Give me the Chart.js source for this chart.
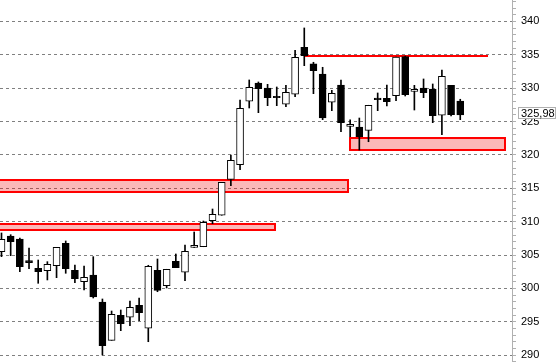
<!DOCTYPE html>
<html><head><meta charset="utf-8">
<script src="https://cdn.jsdelivr.net/npm/chart.js@4/dist/chart.umd.min.js"></script>
<style>html,body{margin:0;padding:0;background:#fff}#w{width:556px;height:362px;position:relative}</style>
</head><body><div id="w"><canvas id="c"></canvas></div>
<script>
const opens  = [305.51,307.86,307.41,304.16,303.02,302.66,303.41,306.76,302.72,301.01,302.01,297.97,292.23,295.98,295.68,297.48,294.03,302.72,300.41,304.07,302.42,306.13,306.25,310.15,310.96,316.35,318.54,328.04,330.78,330.03,328.79,327.59,329.09,336.13,333.63,332.13,327.89,330.48,324.29,324.19,323.69,328.53,328.49,328.88,334.72,329.53,330.03,329.88,325.94,330.43,328.08];
const highs  = [308.31,308.05,307.56,306.06,304.26,304.01,306.16,307.11,303.51,303.36,304.76,298.42,296.62,296.77,298.12,298.57,303.47,304.41,302.87,305.16,306.51,308.46,310.10,311.90,315.90,319.99,328.23,331.23,330.93,330.58,330.18,330.43,335.68,339.02,333.88,333.13,329.68,331.23,325.24,325.53,327.44,329.28,330.48,334.67,334.82,330.43,331.38,330.63,332.73,330.43,328.34];
const lows   = [304.76,304.91,302.51,302.96,300.77,301.27,301.61,302.27,300.86,299.77,298.57,290.03,292.23,293.67,294.42,295.17,292.02,299.51,300.07,303.11,301.16,306.13,306.25,309.70,310.96,315.39,317.79,327.03,326.33,327.38,327.38,327.23,328.73,333.37,329.18,325.28,326.63,323.48,322.73,320.74,321.98,326.63,327.33,328.13,328.83,326.73,328.58,324.83,323.03,325.83,325.28];
const closes = [307.36,307.00,303.26,303.86,302.51,303.62,306.16,302.96,301.46,301.67,298.72,291.42,296.13,294.72,297.18,296.37,303.32,299.72,302.87,303.11,305.57,306.46,309.91,311.11,315.90,319.20,326.99,330.13,329.93,328.58,328.58,329.39,334.63,334.87,332.62,325.53,329.24,324.83,324.59,322.73,327.44,328.28,327.98,334.67,329.03,329.83,329.32,325.88,331.78,326.03,325.98];
const yTickLabels = [290,295,300,305,310,315,320,325,330,335,340];
const lastPrice = 325.98;
const zoneFrom = [-1, -1, 37.91];
const zoneTo   = [37.91, 29.89, 54.95];
const zoneLow  = [314.34, 308.61, 320.59];
const zoneHigh = [316.40, 309.73, 322.64];
const lineFrom = [33.08];
const lineTo   = [53.06];
const lineLevel= [334.87];

const idx = opens.map((_, i) => i);
const bodies = idx.map(i => ({x: i, y: [opens[i], closes[i]]}));
const wicks  = idx.map(i => ({x: i, y: [lows[i], highs[i]]}));
const bodyColors = idx.map(i => closes[i] >= opens[i] ? '#ffffff' : '#000000');

const zonePlugin = {
  id: 'zones',
  beforeDatasetsDraw(chart) {
    const {ctx, chartArea: a, scales: {x, y}} = chart;
    ctx.save();
    ctx.beginPath(); ctx.rect(a.left, a.top, a.right - a.left, a.bottom - a.top); ctx.clip();
    for (let k = 0; k < zoneFrom.length; k++) {
      const x1 = Math.round(x.getPixelForValue(zoneFrom[k]));
      const x2 = Math.round(x.getPixelForValue(zoneTo[k]));
      const y1 = Math.round(y.getPixelForValue(zoneHigh[k]));
      const y2 = Math.round(y.getPixelForValue(zoneLow[k]));
      ctx.fillStyle = 'rgba(240,0,0,0.28)';
      ctx.fillRect(x1, y1, x2 - x1, y2 - y1);
      ctx.strokeStyle = '#ff0000'; ctx.lineWidth = 2;
      ctx.strokeRect(x1 + 1, y1 + 1, x2 - x1 - 2, y2 - y1 - 2);
    }
    for (let k = 0; k < lineFrom.length; k++) {
      const x1 = Math.round(x.getPixelForValue(lineFrom[k]));
      const x2 = Math.round(x.getPixelForValue(lineTo[k]));
      const yy = Math.round(y.getPixelForValue(lineLevel[k]));
      ctx.fillStyle = '#ff0000';
      ctx.fillRect(x1, yy - 1, x2 - x1, 2);
    }
    ctx.restore();
  },
  afterDraw(chart) {
    const {ctx, scales: {y}} = chart;
    const yy = Math.round(y.getPixelForValue(lastPrice));
    ctx.save();
    ctx.fillStyle = '#ffffff';
    ctx.fillRect(518, yy - 8, 38, 12);
    ctx.strokeStyle = '#b0b0b0'; ctx.lineWidth = 1;
    ctx.strokeRect(518.5, yy - 7.5, 37, 11);
    ctx.fillStyle = '#000000';
    ctx.font = '11px "Liberation Sans", Arial, sans-serif';
    ctx.textBaseline = 'middle'; ctx.textAlign = 'left';
    ctx.fillText(lastPrice.toFixed(2).replace('.', ','), 521, yy - 1.5);
    ctx.restore();
  }
};

new Chart(document.getElementById('c'), {
  type: 'bar',
  data: {
    datasets: [
      {data: bodies, backgroundColor: bodyColors, borderColor: '#000000', borderWidth: 1,
       borderSkipped: false, barThickness: 7, grouped: false, order: 0},
      {data: wicks, backgroundColor: '#000000', borderWidth: 0,
       barThickness: 1, grouped: false, order: 1}
    ]
  },
  options: {
    responsive: true, maintainAspectRatio: false, animation: false, devicePixelRatio: 1,
    layout: {padding: 0},
    plugins: {legend: {display: false}, tooltip: {enabled: false}},
    scales: {
      x: {type: 'linear', min: -0.163, max: 55.64, display: false, offset: false},
      y: {
        position: 'right', min: 288.98, max: 343.21,
        afterFit(s) { s.width = 44; s.paddingTop = 0; s.paddingBottom = 0; },
        ticks: {stepSize: 1, autoSkip: false, includeBounds: false, padding: 5, color: '#000000',
          font: {family: '"Liberation Sans", Arial, sans-serif', size: 11},
          callback: (v) => yTickLabels.includes(v) ? String(v) : ''},
        grid: {color: (c) => (c.tick && yTickLabels.includes(c.tick.value)) ? '#808080' : 'rgba(0,0,0,0)',
          tickColor: '#b0b0b0', tickLength: 4, lineWidth: 1},
        border: {color: '#b0b0b0', dash: [3, 3]}
      }
    }
  },
  plugins: [zonePlugin]
});
</script></body></html>
